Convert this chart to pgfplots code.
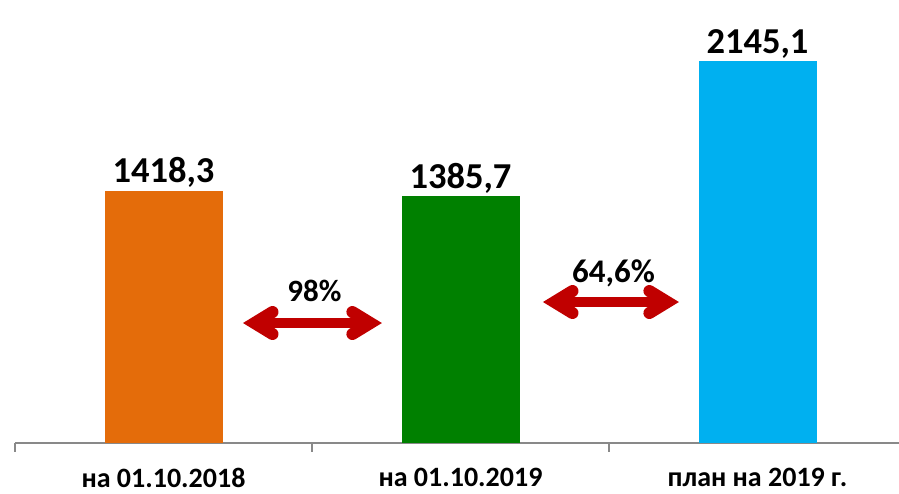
\documentclass[border=0pt]{standalone}
\usepackage{fontspec}
\setmainfont{Carlito}
\usepackage{pgfplots}
\pgfplotsset{compat=1.18}
\usetikzlibrary{calc}
\definecolor{corange}{HTML}{E46C0A}
\definecolor{cgreen}{HTML}{008000}
\definecolor{cblue}{HTML}{00B0F0}
\definecolor{cred}{HTML}{C00000}
\definecolor{axisgray}{HTML}{898989}
\begin{document}
\begin{tikzpicture}
\begin{axis}[
  at={(15pt,51pt)}, anchor=south west,
  scale only axis, width=891pt, height=427.2pt,
  xmin=-0.5, xmax=2.5, ymin=0, ymax=2400,
  axis y line=none, axis x line=bottom,
  axis line style={-, draw=axisgray, line width=1.3pt},
  xtick={-0.5,0.5,1.5,2.5}, xticklabels={},
  tick align=outside, major tick length=9pt,
  tick style={draw=axisgray, line width=1.3pt},
  extra x ticks={0,1,2},
  extra x tick labels={на 01.10.2018, на 01.10.2019, план на 2019 г.},
  extra x tick style={major tick length=0pt, tick style={draw=none},
     tick label style={font=\fontsize{28}{32}\selectfont\bfseries, inner sep=1pt, yshift=-24pt}},
  nodes near coords, point meta=explicit symbolic,
  every node near coord/.append style={font=\fontsize{36.5}{42}\selectfont\bfseries, black, inner sep=3pt},
  clip=false,
]
\addplot[ybar, bar width=118pt, fill=corange, draw=none, bar shift=0pt] coordinates {(0,1418.3) [{1418,3}]};
\addplot[ybar, bar width=118pt, fill=cgreen, draw=none, bar shift=0pt] coordinates {(1,1385.7) [{1385,7}]};
\addplot[ybar, bar width=118pt, fill=cblue, draw=none, bar shift=0pt] coordinates {(2,2145.1) [{2145,1}]};

\coordinate (a1) at (axis cs:0.266,674);
\coordinate (b1) at (axis cs:0.737,674);
\coordinate (a2) at (axis cs:1.276,792);
\coordinate (b2) at (axis cs:1.737,792);

\node[font=\fontsize{31}{36}\selectfont\bfseries] at (axis cs:0.508,854) {98\%};
\node[font=\fontsize{33}{38}\selectfont\bfseries] at (axis cs:1.515,955) {64,6\%};
\end{axis}
% arrows
\foreach \a/\b in {a1/b1, a2/b2} {
  \draw[cred, line width=10pt] ($(\a)+(12pt,0)$) -- ($(\b)+(-12pt,0)$);
  \draw[cred, line width=12pt, line cap=round, line join=miter] ($(\a)+(30pt,11pt)$) -- ($(\a)+(12pt,0pt)$) -- ($(\a)+(30pt,-11pt)$);
  \draw[cred, line width=12pt, line cap=round, line join=miter] ($(\b)+(-30pt,11pt)$) -- ($(\b)+(-12pt,0pt)$) -- ($(\b)+(-30pt,-11pt)$);
}
\pgfresetboundingbox
\path[use as bounding box] (0,0) rectangle (899pt,494pt);
\end{tikzpicture}
\end{document}
